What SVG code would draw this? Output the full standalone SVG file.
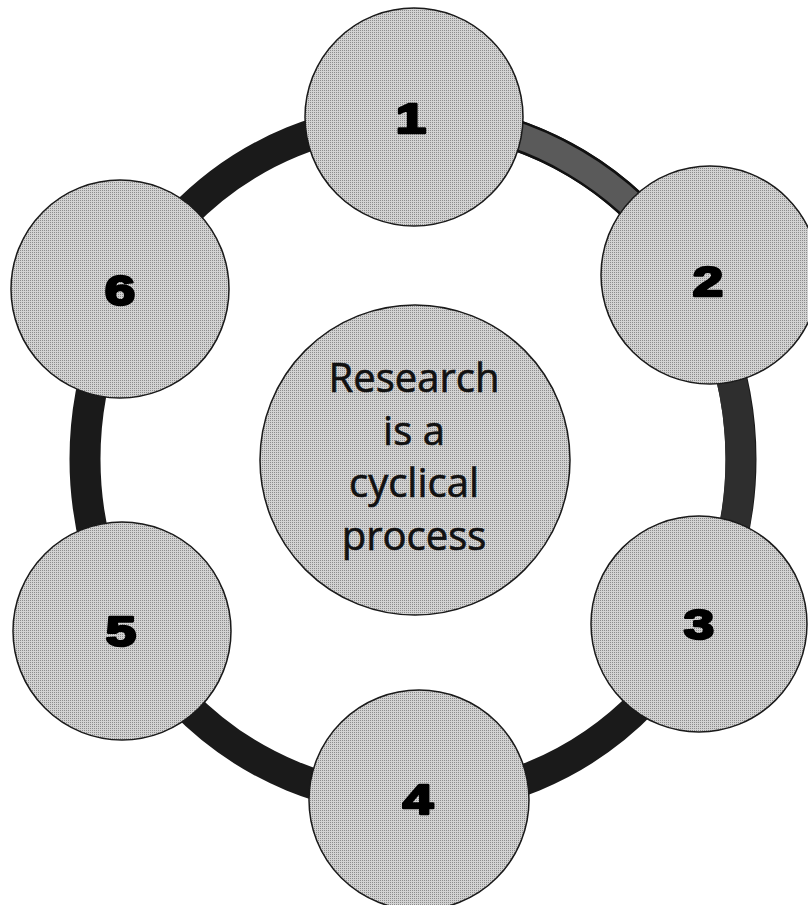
<svg xmlns="http://www.w3.org/2000/svg" width="808" height="905" viewBox="0 0 808 905">
<defs>
<pattern id="tex" width="2" height="2" patternUnits="userSpaceOnUse">
<rect width="2" height="2" fill="#d2d2d2"/>
<rect width="1" height="1" fill="#8c8c8c"/>
</pattern>
<style>
.node{fill:url(#tex);stroke:#1a1a1a;stroke-width:1.5}
.num{font-family:"Liberation Sans",Arial,sans-serif;font-weight:bold;font-size:43px;fill:#000;stroke:#000;stroke-width:2.6;stroke-linejoin:round;text-anchor:middle}
.ctr{font-family:"Open Sans","Liberation Sans",sans-serif;font-size:40px;fill:#111;stroke:#111;stroke-width:0.6;text-anchor:middle}
</style>
</defs>
<rect width="808" height="905" fill="#fff"/>
<g id="connectors">
<ellipse cx="413" cy="459" rx="328" ry="341" fill="none" stroke="#1a1a1a" stroke-width="31"/>
<path d="M 413 118 A 328 341 0 0 1 695 285" fill="none" stroke="#111" stroke-width="31"/>
<path d="M 413 118 A 328 341 0 0 1 695 285" fill="none" stroke="#5a5a5a" stroke-width="26"/>
<path d="M 697 290 A 328 341 0 0 1 700 624" fill="none" stroke="#2e2e2e" stroke-width="30"/>
</g>
<g id="center">
<circle class="node" cx="415" cy="460" r="155"/>
<text class="ctr" x="414" y="392">Research</text>
<text class="ctr" x="414" y="445">is a</text>
<text class="ctr" x="414" y="497">cyclical</text>
<text class="ctr" x="414" y="550">process</text>
</g>
<g id="n1"><circle class="node" cx="414" cy="117" r="109"/><text class="num" transform="translate(411,133) scale(1.27,1)">1</text></g>
<g id="n2"><circle class="node" cx="710" cy="275" r="109"/><text class="num" transform="translate(708,296) scale(1.27,1)">2</text></g>
<g id="n3"><circle class="node" cx="699" cy="624" r="108"/><text class="num" transform="translate(699,639) scale(1.27,1)">3</text></g>
<g id="n4"><circle class="node" cx="419" cy="800" r="110"/><text class="num" transform="translate(418,814) scale(1.27,1)">4</text></g>
<g id="n5"><circle class="node" cx="122" cy="631" r="109"/><text class="num" transform="translate(121,646) scale(1.27,1)">5</text></g>
<g id="n6"><circle class="node" cx="120" cy="289" r="109"/><text class="num" transform="translate(120,305) scale(1.27,1)">6</text></g>
</svg>
